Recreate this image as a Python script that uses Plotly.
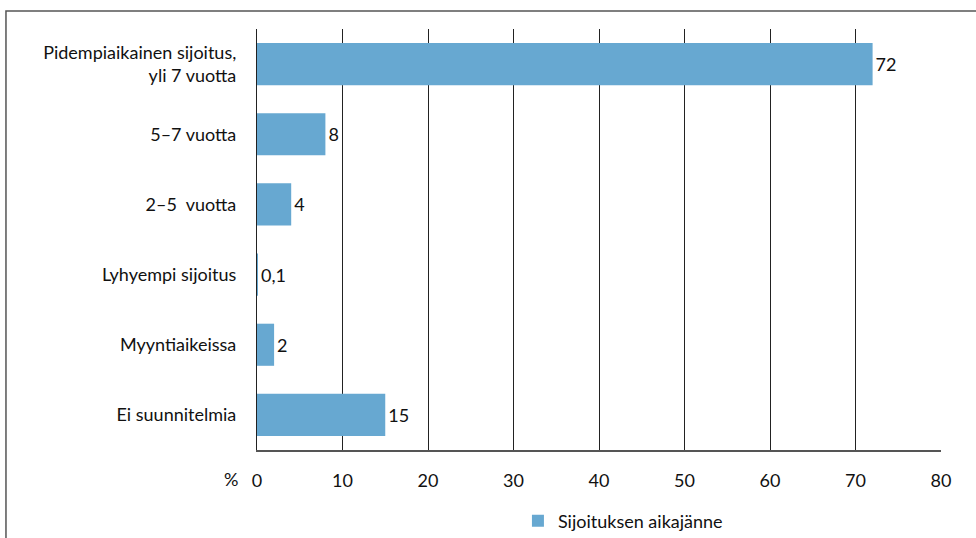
import plotly.graph_objects as go

categories = [
    "Pidempiaikainen sijoitus,<br>yli 7 vuotta",
    "5–7 vuotta",
    "2–5  vuotta",
    "Lyhyempi sijoitus",
    "Myyntiaikeissa",
    "Ei suunnitelmia",
]
values = [72, 8, 4, 0.1, 2, 15]
value_labels = ["72", "8", "4", "0,1", "2", "15"]
series_name = "Sijoituksen aikajänne"
x_ticks = [0, 10, 20, 30, 40, 50, 60, 70, 80]

FONT = "Lato, 'Open Sans', sans-serif"
BAR_COLOR = "#67a8d1"

fig = go.Figure()
fig.add_trace(go.Bar(
    y=categories,
    x=values,
    orientation="h",
    name=series_name,
    marker=dict(color=BAR_COLOR, line=dict(width=0)),
    width=0.6,
    text=value_labels,
    textposition="outside",
    textfont=dict(family=FONT, size=18, color="#111"),
    cliponaxis=False,
    showlegend=True,
))

fig.update_layout(
    width=976,
    height=538,
    margin=dict(l=257, r=35, t=29, b=88, autoexpand=False),
    paper_bgcolor="white",
    plot_bgcolor="white",
    font=dict(family=FONT, size=18, color="#111"),
    bargap=0.4,
    xaxis=dict(
        range=[0, 80],
        tickvals=x_ticks,
        ticktext=[str(t) for t in x_ticks],
        showgrid=True,
        gridcolor="#222",
        gridwidth=1.2,
        zeroline=False,
        showline=True,
        linecolor="#555",
        linewidth=1.5,
        ticks="",
        tickfont=dict(family=FONT, size=18, color="#111"),
        ticklabelstandoff=14,
        automargin=False,
        fixedrange=True,
    ),
    yaxis=dict(
        categoryorder="array",
        categoryarray=categories[::-1],
        autorange=False,
        range=[-0.5, len(categories) - 0.5],
        showgrid=False,
        zeroline=False,
        showline=True,
        linecolor="#222",
        linewidth=1.2,
        ticks="",
        ticklabelstandoff=16,
        tickfont=dict(family=FONT, size=18, color="#111"),
        automargin=False,
        fixedrange=True,
    ),
    legend=dict(
        orientation="h",
        x=0.535,
        xanchor="center",
        y=-0.125,
        yanchor="top",
        font=dict(family=FONT, size=18, color="#111"),
        itemsizing="constant",
    ),
    shapes=[
        # frame around the whole chart, open past the right and bottom edges
        dict(type="rect", xref="paper", yref="paper",
             x0=-0.367, x1=1.2, y0=-0.4, y1=1.0428,
             line=dict(color="#555", width=1.5), fillcolor="rgba(0,0,0,0)",
             layer="below"),
    ],
    annotations=[
        dict(text="%", xref="paper", yref="paper", x=-0.025, y=-0.068,
             xanchor="right", yanchor="middle", showarrow=False,
             font=dict(family=FONT, size=18, color="#111")),
    ],
)

fig.write_html("out.html")
